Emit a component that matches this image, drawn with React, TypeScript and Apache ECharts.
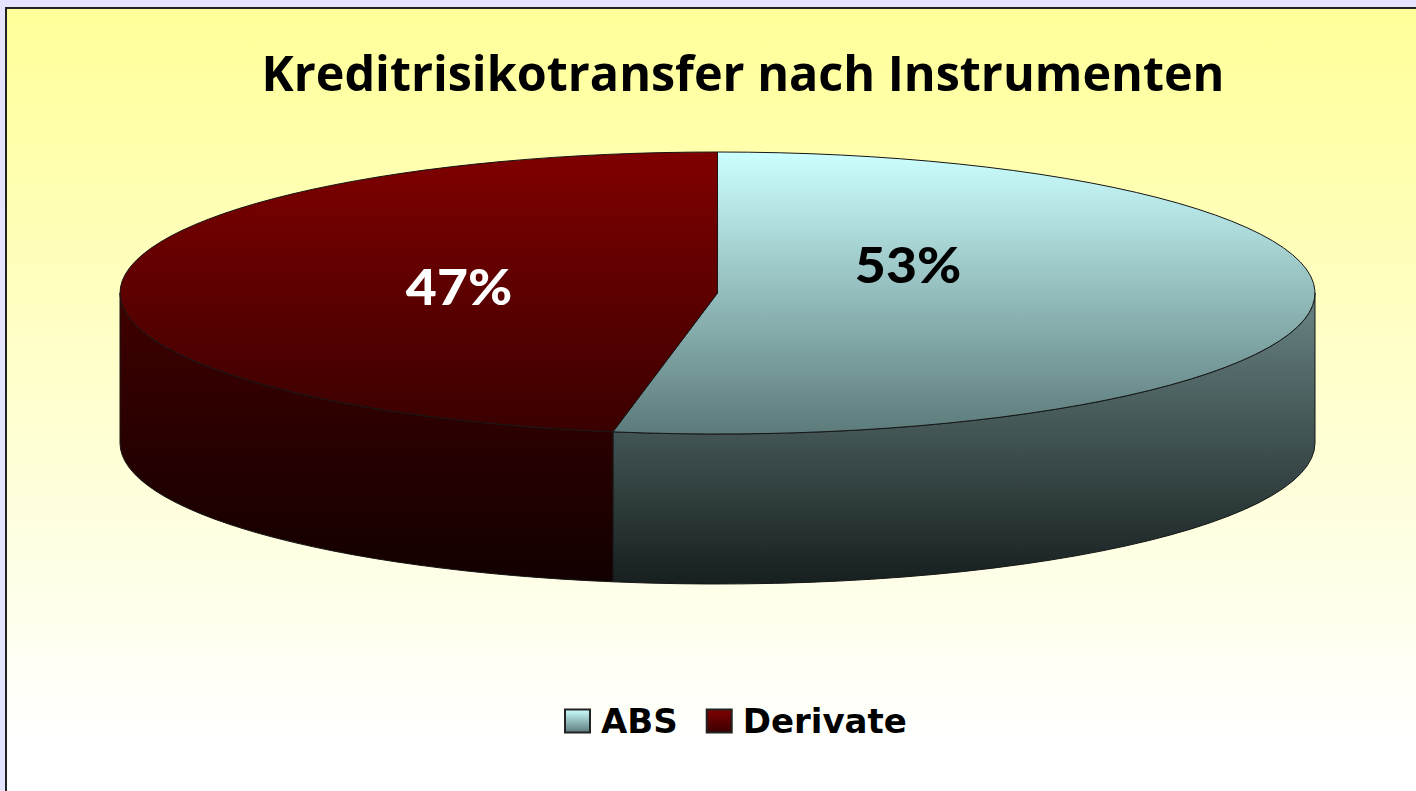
import React, { useEffect, useRef } from "react";
import * as echarts from "echarts";

const categories = ["ABS", "Derivate"];
const shares = [52.8, 47.2];
const titleText = "Kreditrisikotransfer nach Instrumenten";

// Layout of the tilted pie (pixels)
const CX = 717.5;
const CY = 293;
const RX = 597.5;
const RY = 141;
const DEPTH = 150;
const labelPositions = [
  [908, 264],
  [459, 286],
];
const labelColors = ["#000000", "#ffffff"];
const topStops = [
  ["#ccffff", "#5c7a7a"],
  ["#800000", "#3a0000"],
];
const sideStops = [
  ["#6a8585", "#171f1f"],
  ["#400000", "#120000"],
];

const grad = (a: string, b: string) =>
  new echarts.graphic.LinearGradient(0, 0, 0, 1, [
    { offset: 0, color: a },
    { offset: 1, color: b },
  ]);

const pt = (deg: number, dy = 0) => {
  const r = (deg * Math.PI) / 180;
  return [CX + RX * Math.sin(r), CY - RY * Math.cos(r) + dy];
};

const total = shares.reduce((a, b) => a + b, 0);

const makeRender = (index: number) => (_params: any, api: any) => {
  const before = shares.slice(0, index).reduce((a, b) => a + b, 0);
  const start = (before / total) * 360;
  const end = start + (api.value(0) / total) * 360;
  const large = end - start > 180 ? 1 : 0;
  const a = pt(start);
  const b = pt(end);
  const topPath = `M${CX} ${CY}L${a[0]} ${a[1]}A${RX} ${RY} 0 ${large} 1 ${b[0]} ${b[1]}Z`;
  const s = Math.max(start, 90);
  const e = Math.min(end, 270);
  const s0 = pt(s);
  const e0 = pt(e);
  const s1 = pt(s, DEPTH);
  const e1 = pt(e, DEPTH);
  const sidePath = `M${s0[0]} ${s0[1]}A${RX} ${RY} 0 0 1 ${e0[0]} ${e0[1]}L${e1[0]} ${e1[1]}A${RX} ${RY} 0 0 0 ${s1[0]} ${s1[1]}Z`;
  const lineStyle = { stroke: "#161616", lineWidth: 1 };
  return {
    type: "group",
    children: [
      {
        type: "path",
        shape: { pathData: sidePath },
        style: { fill: grad(sideStops[index][0], sideStops[index][1]), ...lineStyle },
      },
      {
        type: "path",
        shape: { pathData: topPath },
        style: { fill: grad(topStops[index][0], topStops[index][1]), ...lineStyle },
      },
      {
        type: "text",
        x: labelPositions[index][0],
        y: labelPositions[index][1],
        scaleX: 1.07,
        style: {
          text: `${Math.round(api.value(0))}%`,
          fill: labelColors[index],
          font: "900 50px Lato",
          align: "center",
          verticalAlign: "middle",
        },
      },
    ],
  };
};

export default function App() {
  const ref = useRef<HTMLDivElement>(null);
  useEffect(() => {
    document.body.style.margin = "0";
    document.body.style.overflow = "hidden";
    const chart = echarts.init(ref.current!, null, { renderer: "svg" });
    chart.setOption({
      animation: false,
      backgroundColor: "#e4e4ff",
      title: {
        text: titleText,
        left: 738,
        textAlign: "center",
        top: 42,
        textStyle: {
          fontFamily: "Open Sans",
          fontWeight: "bold",
          fontSize: 48.5,
          color: "#000000",
        },
      },
      legend: {
        left: 559,
        top: 699,
        itemWidth: 25,
        itemHeight: 23,
        itemGap: 28,
        icon: "rect",
        textStyle: {
          fontFamily: "DejaVu Sans",
          fontWeight: "bold",
          fontSize: 34,
          color: "#000000",
          padding: [0, 0, 0, 6],
        },
        data: categories.map((name, i) => ({
          name,
          icon: "rect",
          itemStyle: {
            color: grad(topStops[i][0], topStops[i][1]),
            borderColor: "#222222",
            borderWidth: 2,
          },
        })),
      },
      graphic: [
        {
          type: "rect",
          z: -10,
          silent: true,
          shape: { x: 6, y: 8, width: 1430, height: 800 },
          style: {
            fill: new echarts.graphic.LinearGradient(0, 0, 0, 1, [
              { offset: 0, color: "#ffff99" },
              { offset: 0.92, color: "#ffffff" },
              { offset: 1, color: "#ffffff" },
            ]),
            stroke: "#222222",
            lineWidth: 2,
          },
        },
      ],
      series: categories.map((name, i) => ({
        type: "custom",
        name,
        coordinateSystem: "none",
        silent: true,
        itemStyle: { color: topStops[i][0] },
        data: [[shares[i]]],
        renderItem: makeRender(i),
      })),
    });
    return () => chart.dispose();
  }, []);
  return <div ref={ref} style={{ width: 1416, height: 791 }} />;
}
